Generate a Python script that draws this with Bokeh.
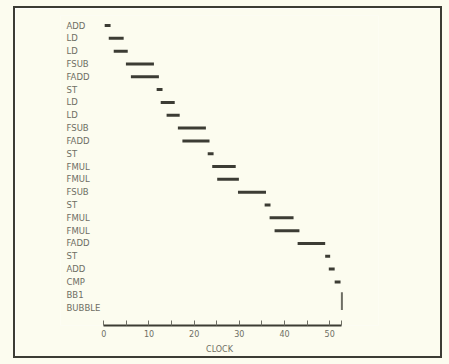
from bokeh.plotting import figure
from bokeh.models import Range1d, FixedTicker, ColumnDataSource
from bokeh.core.properties import value
from bokeh.embed import file_html
from bokeh.resources import INLINE

# ---- data ----
instructions = ["ADD", "LD", "LD", "FSUB", "FADD", "ST", "LD", "LD", "FSUB", "FADD", "ST",
                "FMUL", "FMUL", "FSUB", "ST", "FMUL", "FMUL", "FADD", "ST", "ADD", "CMP",
                "BB1", "BUBBLE"]
start_clock = [0.2, 1.1, 2.2, 4.9, 6.0, 11.7, 12.6, 13.9, 16.4, 17.4, 23.0,
               24.0, 25.1, 29.7, 35.6, 36.7, 37.8, 42.9, 49.0, 49.8, 51.1]
end_clock = [1.5, 4.4, 5.3, 11.1, 12.2, 13.0, 15.7, 16.8, 22.6, 23.4, 24.3,
             29.2, 29.9, 35.9, 36.9, 42.0, 43.3, 49.0, 50.1, 51.1, 52.4]
bubble_clock = 52.7
bubble_span = (20.8, 22.2)
major_ticks = [0, 10, 20, 30, 40, 50]
minor_ticks = [5, 15, 25, 35, 45, 52.7]
axis_end = 52.7

BG = "#fcfcef"
INK = "#3c3c34"
TXT = "#6e6e64"
FONT = "DejaVu Sans"

p = figure(width=429, height=352, output_backend="svg", toolbar_location=None,
           x_range=Range1d(-9.58, 60.8), y_range=Range1d(23.40, -0.78),
           min_border_left=45, min_border_right=66, min_border_top=7, min_border_bottom=35)
p.background_fill_color = BG
p.border_fill_color = BG
p.outline_line_color = None
p.grid.visible = False
p.yaxis.visible = False
p.styles = {"margin-left": "13px", "margin-top": "6px",
            "border": "2px solid " + INK,
            "box-shadow": "0 0 0 30px " + BG}

rows = list(range(len(start_clock)))
src = ColumnDataSource(dict(y=rows, x0=start_clock, x1=end_clock))
p.segment(x0="x0", y0="y", x1="x1", y1="y", source=src, line_color=INK, line_width=3)

# instruction labels
lab = ColumnDataSource(dict(y=list(range(len(instructions))), t=instructions,
                            x=[-8.25] * len(instructions)))
p.text(x="x", y="y", text="t", source=lab, text_font=value(FONT), text_font_size="8.5px",
       text_color=TXT, text_align="left", text_baseline="middle")

# bubble marker
p.segment(x0=[bubble_clock], y0=[bubble_span[0]], x1=[bubble_clock], y1=[bubble_span[1]],
          line_color=TXT, line_width=2)

ax = p.xaxis[0]
ax.ticker = FixedTicker(ticks=major_ticks, minor_ticks=minor_ticks)
ax.bounds = (0, axis_end)
ax.axis_line_color = INK
ax.axis_line_width = 2
ax.major_tick_in = 5
ax.major_tick_out = 0
ax.minor_tick_in = 5
ax.minor_tick_out = 0
ax.major_tick_line_color = TXT
ax.minor_tick_line_color = TXT
ax.major_label_text_font = FONT
ax.major_label_text_font_size = "8px"
ax.major_label_text_color = TXT
ax.major_label_standoff = 4
ax.axis_label = "CLOCK"
ax.axis_label_text_font = FONT
ax.axis_label_text_font_size = "8px"
ax.axis_label_text_font_style = "normal"
ax.axis_label_text_color = TXT
ax.axis_label_standoff = 5

open("out.html", "w").write(file_html(p, INLINE))
